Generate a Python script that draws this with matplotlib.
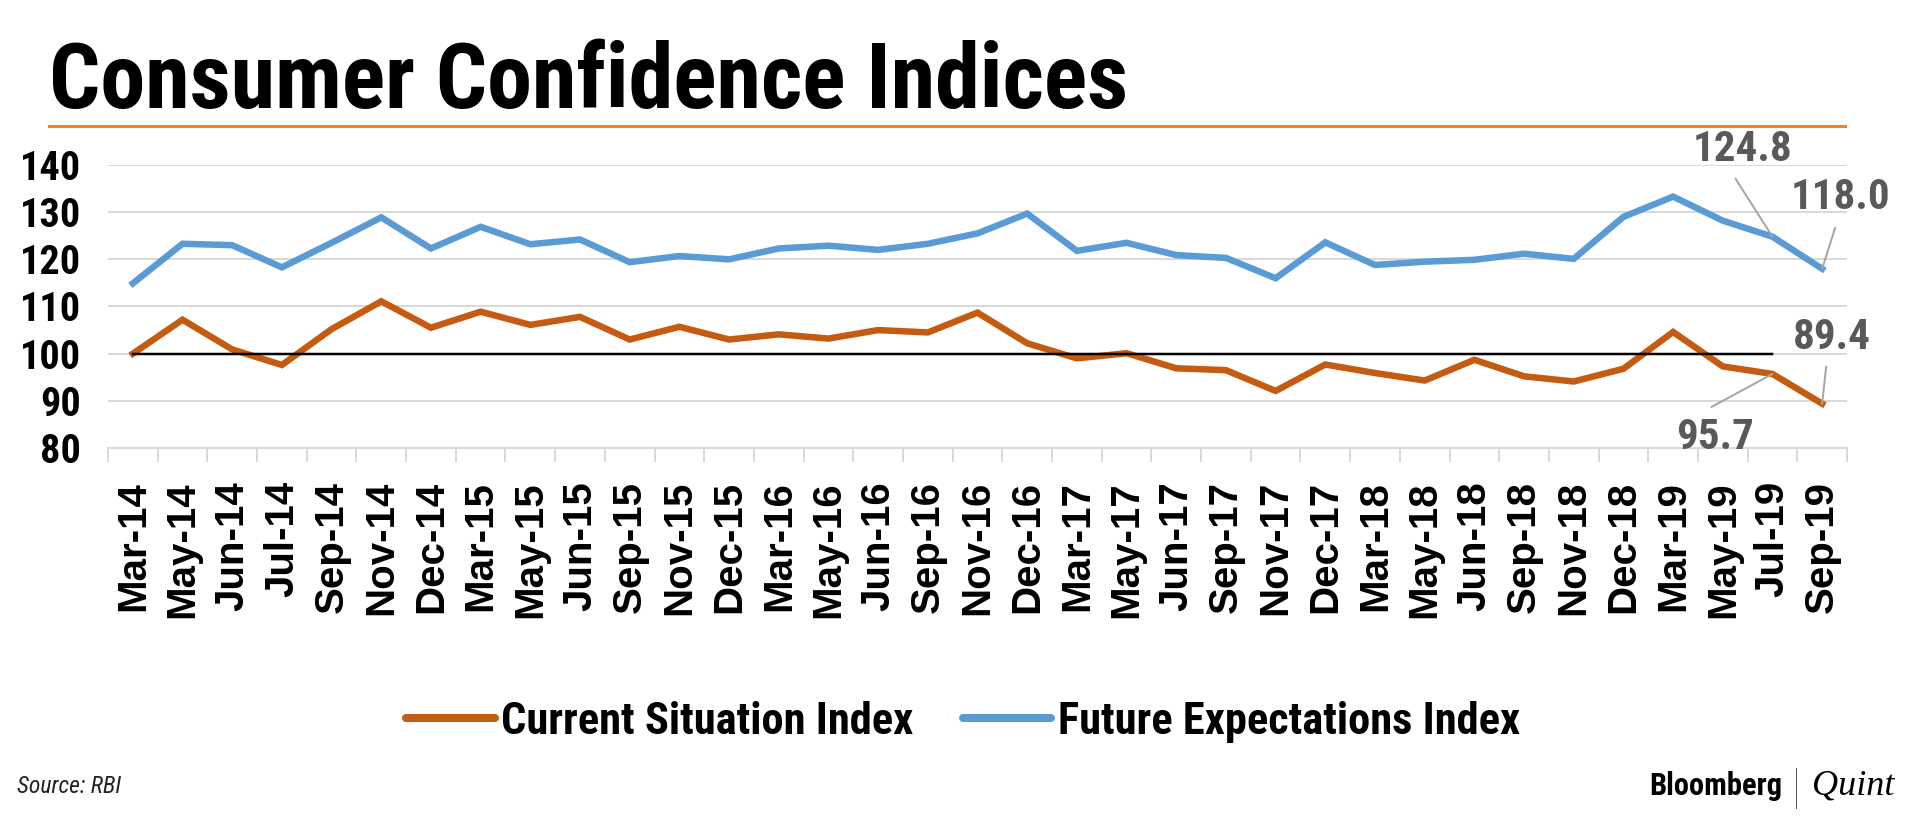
import numpy as np
import matplotlib
matplotlib.use('Agg')
import matplotlib.pyplot as plt
from matplotlib.lines import Line2D

# data
months = ['Mar-14', 'May-14', 'Jun-14', 'Jul-14', 'Sep-14', 'Nov-14', 'Dec-14',
          'Mar-15', 'May-15', 'Jun-15', 'Sep-15', 'Nov-15', 'Dec-15',
          'Mar-16', 'May-16', 'Jun-16', 'Sep-16', 'Nov-16', 'Dec-16',
          'Mar-17', 'May-17', 'Jun-17', 'Sep-17', 'Nov-17', 'Dec-17',
          'Mar-18', 'May-18', 'Jun-18', 'Sep-18', 'Nov-18', 'Dec-18',
          'Mar-19', 'May-19', 'Jul-19', 'Sep-19']
current = [100.0, 107.2, 100.9, 97.6, 105.2, 111.1, 105.5,
           108.9, 106.1, 107.8, 103.0, 105.7, 103.0,
           104.1, 103.2, 105.0, 104.5, 108.7, 102.2,
           99.0, 100.1, 96.9, 96.5, 92.1, 97.7,
           95.9, 94.3, 98.7, 95.2, 94.1, 96.8,
           104.6, 97.3, 95.7, 89.4]
future = [114.9, 123.3, 123.0, 118.3, 123.5, 128.9, 122.3,
          126.9, 123.2, 124.2, 119.4, 120.7, 120.0,
          122.3, 122.9, 122.0, 123.3, 125.5, 129.7,
          121.8, 123.5, 120.9, 120.3, 116.0, 123.6,
          118.8, 119.5, 119.9, 121.2, 120.1, 129.0,
          133.3, 128.2, 124.8, 118.0]
baseline_value = 100
baseline_end = 'Jul-19'
yticks = [80, 90, 100, 110, 120, 130, 140]

ORANGE = '#C55A11'
BLUE = '#5B9BD5'
GRID = '#D9D9D9'
NARROW = ['Roboto Condensed', 'DejaVu Sans Condensed', 'DejaVu Sans']
px = 72 / 100  # points per pixel

fig = plt.figure(figsize=(19.2, 8.22), dpi=100)
W, H = 1920, 822
ax = fig.add_axes([108 / W, 1 - 448 / H, (1847 - 108) / W, (448 - 165) / H])

x = np.arange(len(months))
ax.plot(x, current, color=ORANGE, lw=6.5 * px, solid_joinstyle='miter', zorder=3)
ax.plot(x, future, color=BLUE, lw=6.5 * px, solid_joinstyle='miter', zorder=3)
n_base = months.index(baseline_end) + 1
ax.plot(x[:n_base], [baseline_value] * n_base, color='black', lw=2.5 * px, zorder=4)

ax.set_xlim(-0.5, len(months) - 0.5)
ax.set_ylim(yticks[0], yticks[-1])
ax.set_yticks(yticks)
ax.set_yticklabels([str(v) for v in yticks], family=NARROW, stretch='condensed',
                   fontweight='bold', fontsize=29)
ax.set_xticks(x)
ax.set_xticklabels(months, rotation=90, family=['Liberation Sans', 'DejaVu Sans'],
                   fontweight='bold', fontsize=29, va='top', ha='center')
ax.set_xticks(np.arange(len(months) + 1) - 0.5, minor=True)
ax.tick_params(axis='y', length=0, pad=27 * px)
ax.tick_params(axis='x', which='major', length=0, pad=33 * px)
ax.tick_params(axis='x', which='minor', length=14 * px, width=2 * px, color=GRID)
ax.yaxis.grid(True, color=GRID, lw=2 * px, zorder=0)
ax.set_axisbelow(True)
for s in ['top', 'left', 'right']:
    ax.spines[s].set_visible(False)
ax.spines['bottom'].set_color(GRID)
ax.spines['bottom'].set_linewidth(2 * px)

# value callouts for the last two points
def callout(i, series, line_off, text_off):
    pt = (x[i], series[i])
    ax.annotate('', xy=pt, xytext=line_off, textcoords='offset pixels',
                arrowprops=dict(arrowstyle='-', color='#A6A6A6', lw=2 * px,
                                shrinkA=0, shrinkB=0), zorder=5)
    ax.annotate(f'{series[i]:.1f}', xy=pt, xytext=text_off, textcoords='offset pixels',
                ha='center', va='center', color='#595959', fontsize=31,
                fontweight='bold', family=NARROW, stretch='condensed',
                annotation_clip=False)

callout(33, future, (-37, 58), (-30, 87))
callout(34, future, (13, 41), (18, 71))
callout(34, current, (4, 37), (10, 66))
callout(33, current, (-61, -33), (-57, -64))

# title and rule
fig.text(49 / W, 1 - 108 / H, 'Consumer Confidence Indices', family=NARROW,
         stretch='condensed', fontweight='bold', fontsize=65, va='baseline', ha='left')
fig.add_artist(Line2D([49 / W, 1845 / W], [1 - 126 / H] * 2, color='#F58220', lw=3 * px))

# legend
handles = [Line2D([], [], color=ORANGE, lw=8 * px, solid_capstyle='round'),
           Line2D([], [], color=BLUE, lw=8 * px, solid_capstyle='round')]
fig.legend(handles, ['Current Situation Index', 'Future Expectations Index'],
           loc='center', bbox_to_anchor=(963 / W, 1 - 722 / H), ncol=2, frameon=False,
           prop=dict(family=NARROW, stretch='condensed', weight='bold', size=32),
           handlelength=2.0, handletextpad=0.15, columnspacing=1.1)

# footer
fig.text(17 / W, 1 - 786 / H, 'Source: RBI', family=NARROW, stretch='condensed',
         style='italic', fontsize=17, va='center', ha='left', color='#222222')
fig.text(1782 / W, 1 - 786 / H, 'Bloomberg', family=NARROW, stretch='condensed',
         fontweight='bold', fontsize=22, va='center', ha='right')
fig.add_artist(Line2D([1796 / W] * 2, [1 - 768 / H, 1 - 808 / H], color='#555555', lw=1 * px))
fig.text(1812 / W, 1 - 786 / H, 'Quint', family=['Liberation Serif', 'DejaVu Serif'],
         style='italic', fontsize=26, va='center', ha='left')

fig.savefig('out.png', dpi=100, facecolor='white')
